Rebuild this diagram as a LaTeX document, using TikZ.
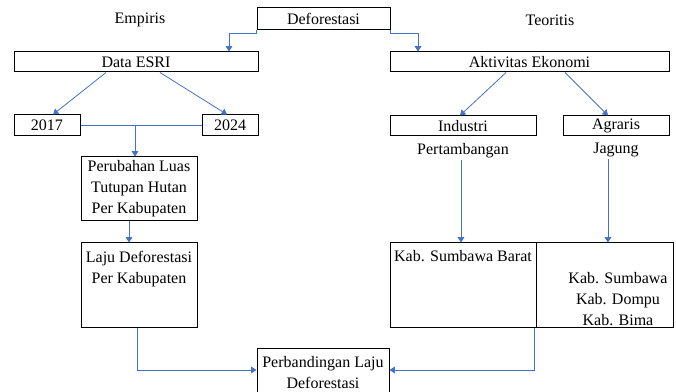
\documentclass[tikz,border=0pt]{standalone}
\usepackage{fontspec}
\setmainfont{Liberation Serif}
\usepackage{tikz}
\usepackage{color}
\usetikzlibrary{positioning,arrows.meta}
\definecolor{flowblue}{HTML}{4472C4}

\begin{document}
\begin{tikzpicture}[x=0.75pt,y=-0.75pt,
    font=\fontsize{12pt}{15.75pt}\selectfont,
    box/.style={draw,line width=0.75pt,inner sep=0pt,minimum height=15pt},
    txt/.style={align=center,inner sep=1pt},
    flow/.style={flowblue,line width=0.6pt,-{Triangle[width=5pt,length=4pt]}},
    link/.style={flowblue,line width=0.6pt}]
  \useasboundingbox (0,0) rectangle (676,392);

  % Top
  \node[box,minimum width=99.75pt,minimum height=16.5pt] (def) at (323.5,19) {Deforestasi};
  \node (emp) at (140,20) {Empiris};
  \node (teo) at (550,20) {Teoritis};

  % Empiris side
  \node[box,minimum width=183pt] (esri) at (136,62) {Data ESRI};
  \node[box,minimum width=49.5pt,minimum height=15.75pt] (y17) at (47,125.5) {2017};
  \node[box,minimum width=42pt,minimum height=15.75pt] (y24) at (230,125.5) {2024};
  \node[box,txt,minimum width=87pt,minimum height=48pt] (ubah) at (139,189)
    {Perubahan Luas\\Tutupan Hutan\\Per Kabupaten};
  \node[box,minimum width=87pt,minimum height=63.75pt] (laju) at (139,285.5) {};
  \node[txt,below=5.5pt of laju.north] (lajutxt) {Laju Deforestasi\\Per Kabupaten};

  % Teoritis side
  \node[box,minimum width=209.25pt] (akt) at (529.5,62) {Aktivitas Ekonomi};
  \node[box,minimum width=109.5pt] (ind) at (463,126) {Industri};
  \node[box,minimum width=79.5pt] (agr) at (616,126) {Agraris};
  \node[txt,below=4pt of ind] (pert) {Pertambangan};
  \node[txt,below=4pt of agr] (jag) {Jagung};
  \node[box,minimum width=109.5pt,minimum height=63.75pt] (kbb) at (463,285.5) {};
  \node[txt,below=5pt of kbb.north] (kbbtxt) {Kab. Sumbawa Barat};
  \node[box,minimum width=102.75pt,minimum height=63.75pt] (kab) at (604.5,285.5) {};
  \node[txt,anchor=south] (kabtxt) at (618,327) {Kab. Sumbawa\\Kab. Dompu\\Kab. Bima};

  % Result
  \node[box,txt,minimum width=99pt,minimum height=36pt] (perb) at (323,373)
    {Perbandingan Laju\\Deforestasi};

  % Connectors
  \draw[flow] (def.south west) -- ++(0,3) -| ([xshift=69.75pt]esri.north);
  \draw[flow] (def.south east) -- ++(0,3) -| ([xshift=-83.6pt]akt.north);
  \draw[flow] ([xshift=-22.5pt]esri.south) -- ([xshift=4.5pt]y17.north);
  \draw[flow] ([xshift=18pt]esri.south) -- ([xshift=-2.25pt]y24.north);
  \draw[link] (y17.east) -- (y24.west);
  \draw[flow] ([xshift=-3pt]ubah.north |- y17.east) -- ([xshift=-3pt]ubah.north);
  \draw[flow] ([xshift=-7.5pt]ubah.south) -- ([xshift=-7.5pt]laju.north);
  \draw[flow] ([xshift=-1.5pt]laju.south) |- ([yshift=2.25pt]perb.west);
  \draw[flow] ([xshift=-17.6pt]akt.south) -- ([xshift=-2.25pt]ind.north);
  \draw[flow] ([xshift=26.6pt]akt.south) -- ([xshift=-6pt]agr.north);
  \draw[flow] ([xshift=-1.5pt]kbb.north |- pert.south) -- ([xshift=-1.5pt]kbb.north);
  \draw[flow] ([xshift=2.6pt]kab.north |- jag.south) -- ([xshift=2.6pt]kab.north);
  \draw[flow] ([xshift=-1.5pt]kbb.south east) |- ([yshift=2.25pt]perb.east);
\end{tikzpicture}
\end{document}
